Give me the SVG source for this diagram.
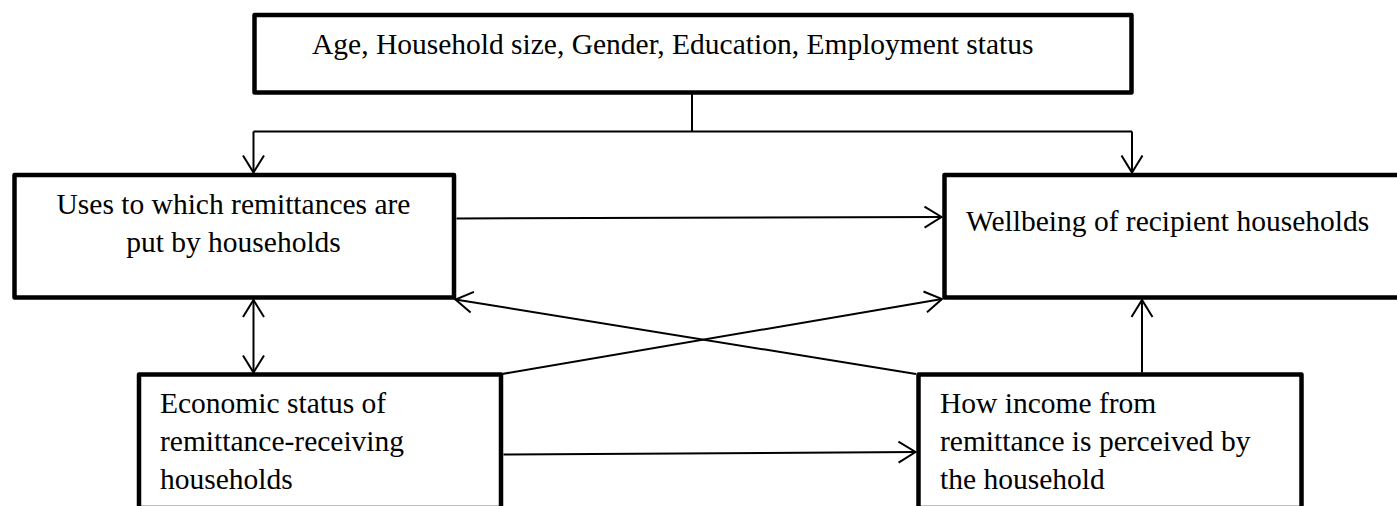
<svg xmlns="http://www.w3.org/2000/svg" width="1397" height="506" viewBox="0 0 1397 506">
<style>
.box{fill:#fff;stroke:#000;stroke-width:4.5;stroke-linejoin:round}
.t{font-family:"Liberation Serif","Times New Roman",serif;font-size:29.5px;fill:#000}
.c{fill:none;stroke:#000;stroke-width:2}
.ca{fill:none;stroke:#000;stroke-width:2;marker-end:url(#ah)}
</style>
<defs>
<marker id="ah" markerUnits="userSpaceOnUse" markerWidth="24" markerHeight="24" refX="0" refY="0" viewBox="-20 -12 24 24" orient="auto-start-reverse" overflow="visible">
<path d="M-17,-10.5 L0,0 L-17,10.5" fill="none" stroke="#000" stroke-width="2"/>
</marker>
</defs>
<rect width="1397" height="506" fill="#fff"/>
<g id="connectors">
<line class="c" x1="692" y1="94" x2="692" y2="131.5"/>
<line class="c" x1="253.5" y1="131.5" x2="1132" y2="131.5"/>
<line class="ca" x1="253.5" y1="131.5" x2="253.5" y2="172.5"/>
<line class="ca" x1="1132" y1="131.5" x2="1132" y2="172.5"/>
<line class="ca" x1="456.5" y1="218.5" x2="941.5" y2="217"/>
<line class="ca" x1="916" y1="374" x2="455.5" y2="299.5"/>
<line class="ca" x1="502" y1="374" x2="942" y2="299"/>
<line class="ca" x1="253.5" y1="300" x2="253.5" y2="372.5" marker-start="url(#ah)"/>
<line class="ca" x1="503.5" y1="454.5" x2="915.5" y2="452"/>
<line class="ca" x1="1142" y1="372.5" x2="1142" y2="300"/>
</g>
<g id="node-demographics">
<rect class="box" x="254.5" y="15" width="877" height="77.5"/>
<text class="t" x="312" y="53.5">Age, Household size, Gender, Education, Employment status</text>
</g>
<g id="node-uses">
<rect class="box" x="14.5" y="175" width="439.5" height="122.5"/>
<text class="t" x="233.5" y="214" text-anchor="middle">Uses to which remittances are</text>
<text class="t" x="233.5" y="251.7" text-anchor="middle">put by households</text>
</g>
<g id="node-wellbeing">
<rect class="box" x="944.5" y="175" width="456.5" height="122.5"/>
<text class="t" x="966" y="230.7">Wellbeing of recipient households</text>
</g>
<g id="node-economic">
<rect class="box" x="139" y="374.5" width="362" height="133.5"/>
<text class="t" x="160" y="413.3">Economic status of</text>
<text class="t" x="160" y="451">remittance-receiving</text>
<text class="t" x="160" y="489.3">households</text>
</g>
<g id="node-perception">
<rect class="box" x="918.5" y="374.5" width="383" height="133.5"/>
<text class="t" x="940" y="413.3">How income from</text>
<text class="t" x="940" y="451">remittance is perceived by</text>
<text class="t" x="940" y="489.3">the household</text>
</g>
</svg>
